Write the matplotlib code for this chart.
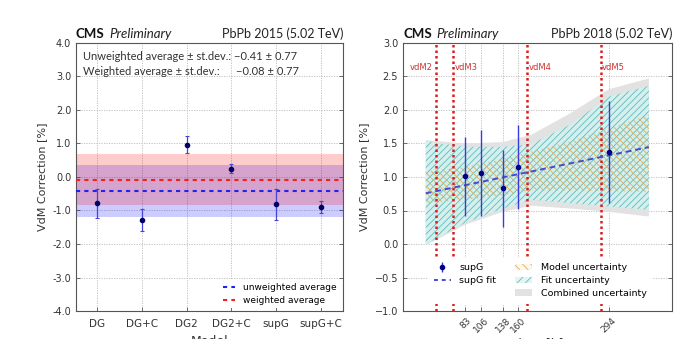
import matplotlib
matplotlib.use("Agg")
import matplotlib.pyplot as plt
import numpy as np
from matplotlib.lines import Line2D
from matplotlib.patches import Patch
from matplotlib.ticker import FuncFormatter, FixedLocator

# ---------------- data: left panel (PbPb 2015) ----------------
models = ['DG', 'DG+C', 'DG2', 'DG2+C', 'supG', 'supG+C']
corr_2015 = [-0.78, -1.28, 0.97, 0.25, -0.82, -0.90]
err_2015 = [0.43, 0.32, 0.24, 0.13, 0.47, 0.18]
unweighted_avg = -0.41
weighted_avg = -0.08
avg_std = 0.77
left_yticks = [4.0, 3.0, 2.0, 1.0, 0.0, -1.0, -2.0, -3.0, -4.0]

# ---------------- data: right panel (PbPb 2018) ----------------
scan_time = [83, 106, 138, 160, 294]
supg_corr = [1.01, 1.06, 0.83, 1.15, 1.37]
supg_err = [0.59, 0.64, 0.57, 0.63, 0.76]
fit_range = [24.5, 353.0]
fit_intercept = 0.705
fit_slope = 0.00210
band_x = [24.5, 83, 138, 180, 237, 294, 353]
fit_unc_up = [1.53, 1.45, 1.45, 1.49, 1.78, 2.20, 2.36]
fit_unc_lo = [0.00, 0.32, 0.53, 0.66, 0.61, 0.56, 0.51]
model_unc_up = [1.08, 1.15, 1.27, 1.38, 1.53, 1.72, 1.93]
model_unc_lo = [0.61, 0.66, 0.73, 0.80, 0.80, 0.79, 0.78]
comb_unc_up = [1.55, 1.50, 1.52, 1.63, 1.95, 2.31, 2.47]
comb_unc_lo = [-0.02, 0.29, 0.48, 0.57, 0.53, 0.48, 0.41]
vdm_x = [39, 65, 174, 282]
vdm_labels = ['vdM2', 'vdM3', 'vdM4', 'vdM5']
right_yticks = [-1.0, -0.5, 0.0, 0.5, 1.0, 1.5, 2.0, 2.5, 3.0]

plt.rcParams['font.family'] = ['DejaVu Sans']
plt.rcParams['hatch.linewidth'] = 0.6

W, H = 681, 339
fig = plt.figure(figsize=(W / 100, H / 100), dpi=100)
axL = fig.add_axes([76 / W, (H - 311) / H, 267 / W, 268 / H])
axR = fig.add_axes([403 / W, (H - 311) / H, 269 / W, 268 / H])

grid_kw = dict(color='#bbbbbb', linestyle=(0, (1.5, 1.5)), linewidth=0.6)
for ax in (axL, axR):
    for s in ax.spines.values():
        s.set_color('#555555')
        s.set_linewidth(0.8)
    ax.tick_params(direction='in', length=3, width=0.6, colors='#555555',
                   labelcolor='#333333', right=True, top=False)
    ax.grid(True, **grid_kw)
    ax.set_axisbelow(True)

# ---------------- left panel ----------------
xL = np.arange(len(models))
axL.set_xlim(-0.47, len(models) - 0.51)
axL.set_ylim(-4.0, 4.0)
axL.axhspan(unweighted_avg - avg_std, unweighted_avg + avg_std, color='blue', alpha=0.2, lw=0, zorder=1)
axL.axhspan(weighted_avg - avg_std, weighted_avg + avg_std, color='red', alpha=0.2, lw=0, zorder=1)
axL.axhline(unweighted_avg, color='#2222ee', ls=(0, (2, 2)), lw=1.5, zorder=3, label='unweighted average')
axL.axhline(weighted_avg, color='#ee2222', ls=(0, (2, 2)), lw=1.5, zorder=3, label='weighted average')
axL.errorbar(xL, corr_2015, yerr=err_2015, fmt='o', ms=3, color='#000066', ecolor='#4444dd',
             elinewidth=0.9, capsize=1.5, capthick=0.8, zorder=4)
axL.set_xticks(xL)
axL.set_xticklabels(models, fontsize=7.5, color='#333333')
axL.yaxis.set_major_locator(FixedLocator(left_yticks))
axL.yaxis.set_major_formatter(FuncFormatter(lambda v, p: '%.1f' % v))
axL.tick_params(axis='y', labelsize=7)
axL.tick_params(axis='x', pad=6)
axL.set_ylabel('VdM Correction [%]', fontsize=8, color='#333333', labelpad=4)
axL.set_xlabel('Model', fontsize=9, color='#333333', labelpad=4)
legL = axL.legend(loc='lower right', fontsize=6.5, frameon=True, handlelength=1.3,
                  borderaxespad=0.3, labelspacing=0.4, handletextpad=0.9)
legL.get_frame().set_edgecolor('none')
legL.get_frame().set_alpha(1)

box_kw = dict(transform=axL.transAxes, fontsize=8, family='Lato', color='#333333', va='top', ha='left')
axL.text(0.025, 0.97, 'Unweighted average \u00b1 st.dev.:', **box_kw)
axL.text(0.59, 0.97, '\u2212%.2f \u00b1 %.2f' % (abs(unweighted_avg), avg_std), **box_kw)
axL.text(0.025, 0.915, 'Weighted average \u00b1 st.dev.:', **box_kw)
axL.text(0.598, 0.915, '\u2212%.2f \u00b1 %.2f' % (abs(weighted_avg), avg_std), **box_kw)


def cms_title(ax, right_text):
    t = ax.text(0.0, 1.012, 'CMS', transform=ax.transAxes, fontsize=9.5, fontweight='bold',
                family='Lato', va='bottom', ha='left', color='#111111')
    ax.annotate('Preliminary', xy=(1, 0), xycoords=t, xytext=(3, 0), textcoords='offset points',
                fontsize=9.5, fontstyle='italic', family='Lato', va='bottom', ha='left', color='#222222')
    ax.text(1.0, 1.012, right_text, transform=ax.transAxes, fontsize=9, family='Lato',
            va='bottom', ha='right', color='#222222')


cms_title(axL, 'PbPb 2015 (5.02 TeV)')

# ---------------- right panel ----------------
axR.set_xlim(-9, 387)
axR.set_ylim(-1.0, 3.0)
axR.fill_between(band_x, comb_unc_lo, comb_unc_up, facecolor='#e2e2e2', edgecolor='none', zorder=1)
axR.fill_between(band_x, fit_unc_lo, fit_unc_up, facecolor='#d4efee', edgecolor='#5cbcbc',
                 hatch='/////', linewidth=0, zorder=2)
axR.fill_between(band_x, model_unc_lo, model_unc_up, facecolor='none', edgecolor='#e2ae5a',
                 hatch='\\\\\\\\\\', linewidth=0, zorder=3)
fx = np.array(fit_range)
axR.plot(fx, fit_intercept + fit_slope * fx, color='#4a4ad0', ls=(0, (3, 2)), lw=1.4, zorder=5)
for xv, lab in zip(vdm_x, vdm_labels):
    axR.axvline(xv, color='#dd1c1c', ls=(0, (1, 1.2)), lw=1.8, zorder=4)
    if lab == 'vdM2':
        axR.text(xv - 4, 2.63, lab, color='#cc3333', fontsize=6, ha='right', va='center', zorder=6)
    else:
        axR.text(xv + 2, 2.63, lab, color='#cc3333', fontsize=6, ha='left', va='center', zorder=6)
eb = axR.errorbar(scan_time, supg_corr, yerr=supg_err, fmt='o', ms=3, color='#000088',
                  ecolor='#3a3ad8', elinewidth=1.0, capsize=0, zorder=6)
axR.set_xticks(scan_time)
axR.set_xticklabels([str(v) for v in scan_time], rotation=45, fontsize=6.5, color='#333333')
axR.yaxis.set_major_locator(FixedLocator(right_yticks))
axR.yaxis.set_major_formatter(FuncFormatter(lambda v, p: ('%.1f' % v).replace('-', '\u2212')))
axR.tick_params(axis='y', labelsize=7)
axR.set_ylabel('VdM Correction [%]', fontsize=8, color='#333333', labelpad=4)
axR.set_xlabel('Time [h]', fontsize=9, color='#333333', labelpad=2)

h_sup = eb
h_fit = Line2D([], [], color='#4a4ad0', ls=(0, (2, 2)), lw=1.4)
h_blank = Line2D([], [], color='none')
h_model = Patch(facecolor='#fdf6ea', edgecolor='#e2ae5a', hatch='\\\\\\\\', linewidth=0)
h_fitu = Patch(facecolor='#e2f4f3', edgecolor='#5cbcbc', hatch='////', linewidth=0)
h_comb = Patch(facecolor='#e2e2e2', edgecolor='none')
legR = axR.legend([h_sup, h_fit, h_blank, h_model, h_fitu, h_comb],
                  ['supG', 'supG fit', '', 'Model uncertainty', 'Fit uncertainty', 'Combined uncertainty'],
                  ncol=2, loc='lower center', bbox_to_anchor=(0.51, 0.01), fontsize=6.8,
                  frameon=True, handlelength=1.8, columnspacing=2.0, labelspacing=0.4,
                  borderpad=0.6, handletextpad=0.9)
legR.get_frame().set_edgecolor('none')
legR.get_frame().set_alpha(1)
legR.set_zorder(10)

cms_title(axR, 'PbPb 2018 (5.02 TeV)')

fig.savefig('out.png', dpi=100)
